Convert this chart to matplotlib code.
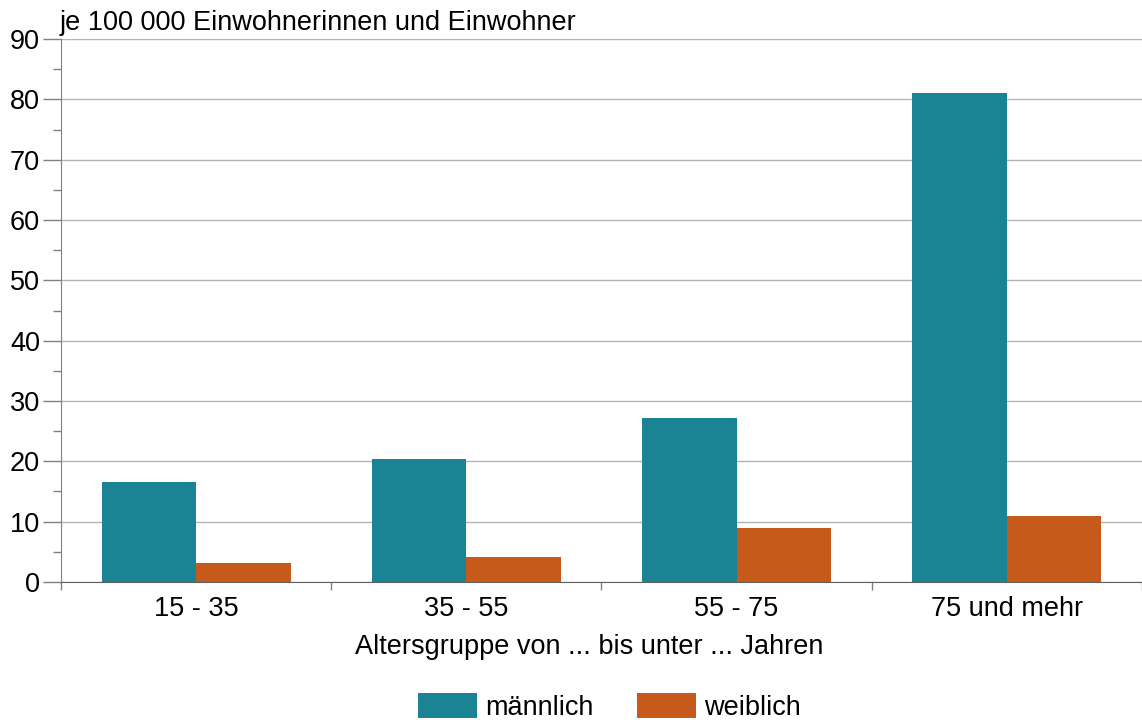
import numpy as np
import matplotlib.pyplot as plt
from matplotlib.ticker import MultipleLocator

plt.rcParams['font.family'] = ['Liberation Sans', 'DejaVu Sans']

# Data
groups = ['15 - 35', '35 - 55', '55 - 75', '75 und mehr']
maennlich = [16.6, 20.4, 27.2, 81.1]
weiblich = [3.15, 4.1, 8.95, 10.9]

c_m = '#1a8494'
c_w = '#c55a1a'
fs = 19.5

fig = plt.figure(figsize=(11.42, 7.2), dpi=100)
ax = fig.add_axes([0.0534, 0.1917, 0.9466, 0.7541])

x = np.arange(len(groups))
w = 0.35
ax.bar(x - w / 2, maennlich, width=w, color=c_m, label='männlich', zorder=3)
ax.bar(x + w / 2, weiblich, width=w, color=c_w, label='weiblich', zorder=3)

ax.set_xlim(-0.5, 3.5)
ax.set_ylim(0, 90)
ax.yaxis.set_major_locator(MultipleLocator(10))
ax.yaxis.set_minor_locator(MultipleLocator(5))
ax.grid(axis='y', which='major', color='#b4b4b4', linewidth=1.0, zorder=0)

ax.set_xticks(x)
ax.set_xticklabels(groups, fontsize=fs)
ax.set_xticks(np.arange(-0.5, 4.0, 1.0), minor=True)
ax.tick_params(axis='x', which='major', length=0, pad=10)
ax.tick_params(axis='x', which='minor', length=6, color='#808080', width=1)
ax.tick_params(axis='y', which='major', length=13, color='#808080', width=1,
               labelsize=fs, pad=2)
ax.tick_params(axis='y', which='minor', length=6, color='#808080', width=1)

for s in ['top', 'right']:
    ax.spines[s].set_visible(False)
ax.spines['left'].set_color('#808080')
ax.spines['bottom'].set_color('#606060')
ax.spines['bottom'].set_zorder(4)

# Achsentitel
fig.text(0.516, 0.101, 'Altersgruppe von ... bis unter ... Jahren', fontsize=fs,
         ha='center', va='center')
fig.text(0.0525, 0.95, 'je 100 000 Einwohnerinnen und Einwohner', fontsize=fs,
         ha='left', va='bottom')

fig.legend(loc='lower center', bbox_to_anchor=(0.534, -0.035), ncol=2, frameon=False,
           fontsize=fs, handlelength=2.15, handleheight=1.04, handletextpad=0.33,
           columnspacing=1.6)

fig.savefig('out.png', dpi=100)
